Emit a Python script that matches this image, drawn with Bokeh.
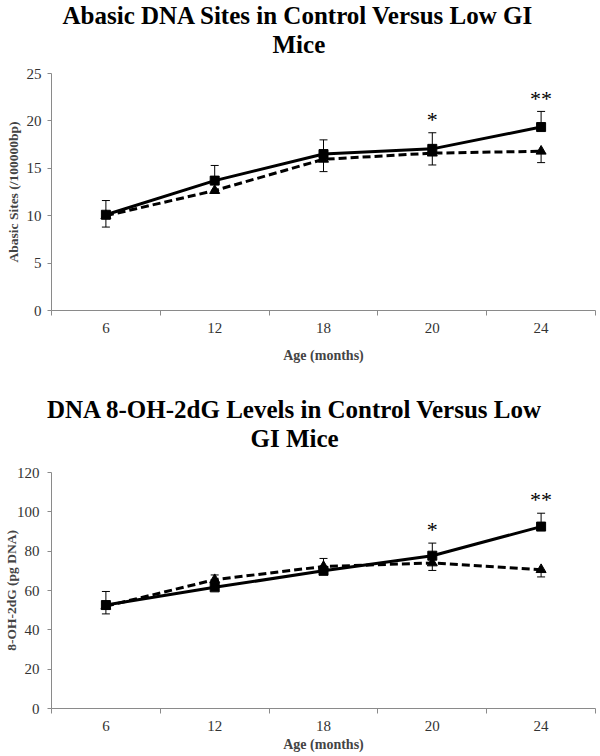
from bokeh.plotting import figure
from bokeh.models import ColumnDataSource, Whisker, TeeHead, FixedTicker, Title, Range1d
from bokeh.layouts import column
from bokeh.embed import file_html
from bokeh.resources import INLINE
from bokeh.core.properties import value

# ---------------- data ----------------
ages = ["6", "12", "18", "20", "24"]

abasic_control = [10.1, 13.7, 16.5, 17.05, 19.35]
abasic_control_err = [1.5, 1.6, 1.5, 1.7, 1.65]
abasic_lowgi = [10.0, 12.65, 15.95, 16.6, 16.8]
abasic_lowgi_err = [1.2, 0.3, 1.3, 1.25, 1.2]
abasic_stars = ["", "", "", "*", "**"]

ohdg_control = [52.6, 61.6, 70.0, 77.7, 92.5]
ohdg_control_err = [6.9, 6.3, 6.3, 6.4, 6.8]
ohdg_lowgi = [52.0, 65.5, 72.2, 74.0, 70.6]
ohdg_lowgi_err = [3.9, 3.5, 3.5, 3.8, 3.7]
ohdg_stars = ["", "", "", "*", "**"]

SERIF = "Liberation Serif"
AXIS_GRAY = "#8a8a8a"
TICK_TXT = "#333333"


def make_panel(line1, line2, ylabel, ymax, ystep, control, control_err, lowgi, lowgi_err,
               stars, off1, off2, st1, st2, b_left, b_right, b_top, b_bottom, height,
               age_standoff, ylab_standoff, ytick_standoff, star_off):
    n = len(ages)
    xs = [i + 0.5 for i in range(n)]
    p = figure(width=600, height=height,
               x_range=Range1d(0, n), y_range=Range1d(0, ymax),
               output_backend="svg", toolbar_location=None,
               min_border_left=b_left, min_border_right=b_right,
               min_border_top=b_top, min_border_bottom=b_bottom)
    p.title.visible = False
    p.outline_line_color = None
    p.xgrid.visible = False
    p.ygrid.visible = False

    t2 = Title(text=line2, align="left", offset=off2, standoff=st2, vertical_align="middle",
               text_font=SERIF, text_font_size="25px", text_font_style="bold",
               text_color="black")
    t1 = Title(text=line1, align="left", offset=off1, standoff=st1, vertical_align="bottom",
               text_font=SERIF, text_font_size="25px", text_font_style="bold",
               text_color="black")
    p.add_layout(t2, "above")
    p.add_layout(t1, "above")

    # x axis
    xa = p.xaxis[0]
    xa.ticker = FixedTicker(ticks=xs, minor_ticks=list(range(n + 1)))
    xa.major_label_overrides = {x: a for x, a in zip(xs, ages)}
    xa.major_tick_out = 0
    xa.major_tick_in = 0
    xa.minor_tick_out = 5
    xa.minor_tick_in = 0
    xa.axis_line_color = AXIS_GRAY
    xa.minor_tick_line_color = AXIS_GRAY
    xa.major_label_text_font = SERIF
    xa.major_label_text_font_size = "15px"
    xa.major_label_text_color = TICK_TXT
    xa.major_label_standoff = 7
    xa.axis_label = "Age (months)"
    xa.axis_label_text_font = SERIF
    xa.axis_label_text_font_size = "14px"
    xa.axis_label_text_font_style = "bold"
    xa.axis_label_standoff = age_standoff

    # y axis
    ya = p.yaxis[0]
    ya.ticker = FixedTicker(ticks=list(range(0, ymax + 1, ystep)), minor_ticks=[])
    ya.major_tick_out = 4
    ya.major_tick_in = 0
    ya.axis_line_color = AXIS_GRAY
    ya.major_tick_line_color = AXIS_GRAY
    ya.major_label_text_font = SERIF
    ya.major_label_text_font_size = "15px"
    ya.major_label_text_color = TICK_TXT
    ya.major_label_standoff = ytick_standoff
    ya.axis_label = ylabel
    ya.axis_label_text_font = SERIF
    ya.axis_label_text_font_size = "13.5px"
    ya.axis_label_text_font_style = "bold"
    ya.axis_label_standoff = ylab_standoff

    src = ColumnDataSource(dict(
        x=xs, control=control, lowgi=lowgi,
        c_up=[v + e for v, e in zip(control, control_err)],
        l_lo=[v - e for v, e in zip(lowgi, lowgi_err)],
        stars=stars,
    ))

    # error bars
    p.add_layout(Whisker(source=src, base="x", lower="control", upper="c_up",
                         line_color="black", line_width=1,
                         upper_head=TeeHead(size=8, line_color="black", line_width=1),
                         lower_head=None))
    p.add_layout(Whisker(source=src, base="x", lower="l_lo", upper="lowgi",
                         line_color="black", line_width=1,
                         lower_head=TeeHead(size=8, line_color="black", line_width=1),
                         upper_head=None))

    # Low GI (dashed, triangles)
    p.line("x", "lowgi", source=src, line_color="black", line_width=3, line_dash="8 4")
    p.scatter("x", "lowgi", source=src, marker="triangle", size=10,
              fill_color="black", line_color="black")
    # Control (solid, squares)
    p.line("x", "control", source=src, line_color="black", line_width=3)
    p.scatter("x", "control", source=src, marker="square", size=9,
              fill_color="black", line_color="black")

    # significance stars
    p.text("x", "c_up", text="stars", source=src, text_font=value(SERIF),
           text_font_size="22px", text_align="center", text_baseline="middle",
           y_offset=star_off, text_color="black")
    return p


p1 = make_panel("Abasic DNA Sites in Control Versus Low GI", "Mice",
                "Abasic Sites (/100000bp)", 25, 5,
                abasic_control, abasic_control_err, abasic_lowgi, abasic_lowgi_err,
                abasic_stars, 11, 221, -27, 29,
                48, 2, 73, 65, 375, 12, 3, 6, -13)
p2 = make_panel("DNA 8-OH-2dG Levels in Control Versus Low", "GI Mice",
                "8-OH-2dG (pg DNA)", 120, 20,
                ohdg_control, ohdg_control_err, ohdg_lowgi, ohdg_lowgi_err,
                ohdg_stars, -4.5, 199, -37, 39,
                51, 5, 97, 48, 381, 3, -5, 8, -14)

layout = column(p1, p2)
open("out.html", "w").write(file_html(layout, INLINE))
